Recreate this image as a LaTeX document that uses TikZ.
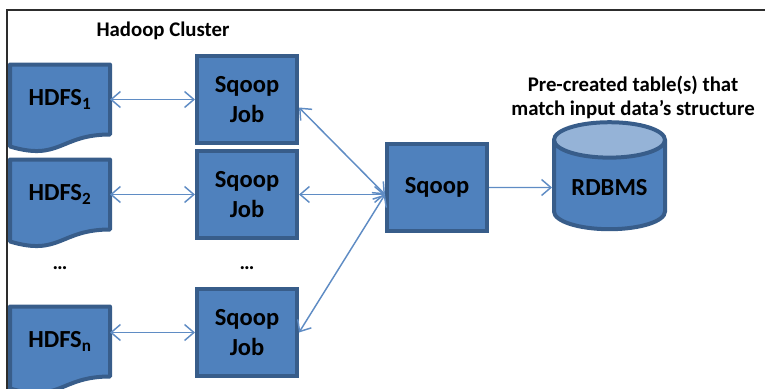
\documentclass[tikz,border=0pt]{standalone}
\usepackage{fontspec}
\setmainfont{Carlito}
\usetikzlibrary{arrows.meta,positioning,shapes.geometric,backgrounds,calc}
\definecolor{BoxBlue}{RGB}{79,129,189}
\definecolor{EdgeBlue}{RGB}{56,93,138}
\definecolor{TopBlue}{RGB}{149,179,215}
\definecolor{LinkBlue}{RGB}{95,140,196}
\definecolor{FrameGray}{RGB}{45,45,45}

\begin{document}
\begin{tikzpicture}[
    x=0.75pt, y=-0.75pt, node distance=3pt and 63.75pt,
    job/.style={draw=EdgeBlue, fill=BoxBlue, line width=3pt, align=center,
                minimum width=75pt, minimum height=65.25pt, inner sep=1pt,
                font=\fontsize{18.4}{22}\selectfont\bfseries},
    doc/.style={line width=3pt, minimum width=72pt, minimum height=49.5pt, inner sep=1pt,
                font=\fontsize{18.4}{22}\selectfont\bfseries},
    docline/.style={draw=EdgeBlue, fill=BoxBlue, line width=3pt, line join=round},
    db/.style={cylinder, shape border rotate=90, aspect=0.45, draw=EdgeBlue, line width=3pt,
               cylinder uses custom fill, cylinder body fill=BoxBlue, cylinder end fill=TopBlue,
               minimum width=83.25pt, minimum height=80.25pt, inner sep=1pt,
               font=\fontsize{18.4}{22}\selectfont\bfseries},
    link/.style={{Straight Barb[length=7pt,width=12pt]}-{Straight Barb[length=7pt,width=12pt]},
                 line width=1.1pt, LinkBlue},
    feed/.style={-{Straight Barb[length=7pt,width=12pt]}, line width=1.1pt, LinkBlue},
    headline/.style={font=\fontsize{15.6}{18}\selectfont\bfseries, align=center},
    more/.style={font=\fontsize{15.6}{18}\selectfont\bfseries, inner sep=0pt}
  ]
    \useasboundingbox (0,0) rectangle (765,389);

    % Sqoop jobs in the cluster
    \node[job] (job1) at (247,99.5) {Sqoop\\Job};
    \node[job, below=of job1] (job2) {Sqoop\\Job};
    \node[job, below=35.25pt of job2] (jobn) {Sqoop\\Job};
    \node[more] (dotsB) at ($(job2.south)!.6!(jobn.north)$) {…};

    % HDFS files
    \node[doc, left=of job1] (hdfsA) {HDFS\textsubscript{1}};
    \node[doc, left=of job2] (hdfsB) {HDFS\textsubscript{2}};
    \node[doc, left=of jobn, yshift=-6.75pt] (hdfsN) {HDFS\textsubscript{n}};
    \node[more] (dotsA) at (dotsB -| hdfsA) {…};

    % Sqoop and database
    \node[job, right=64.5pt of job2, yshift=5.25pt] (sqoop) {Sqoop};
    \node[db, right=47.25pt of sqoop] (rdbms) {RDBMS};
    \coordinate (hub) at (sqoop.west |- job2);

    % Labels
    \node[headline] (cluster) at (163,31) {Hadoop Cluster};
    \node[headline] (note) at (633,97) {Pre-created table(s) that\\match input data’s structure};

    \begin{scope}[on background layer]
      \foreach \d in {hdfsA,hdfsB,hdfsN}
        \draw[docline] (\d.north west) -- (\d.north east) -- (\d.south east)
          .. controls +(-50,0) and +(50,15) .. +(-100,12) -- cycle;
    \end{scope}

    \draw[link] (hdfsA) -- (job1);
    \draw[link] (hdfsB) -- (job2);
    \draw[link] (hdfsN.east |- jobn) -- (jobn);
    \draw[link] ([yshift=-6pt]job1.east) -- (hub);
    \draw[link] (job2) -- (hub);
    \draw[link] (jobn.east) -- (hub);
    \draw[feed] (sqoop) -- (rdbms);

    % Frame
    \draw[FrameGray, line width=1.5pt] (6.5,389) -- (6.5,9.5) -- (765,9.5);
  \end{tikzpicture}
\end{document}
